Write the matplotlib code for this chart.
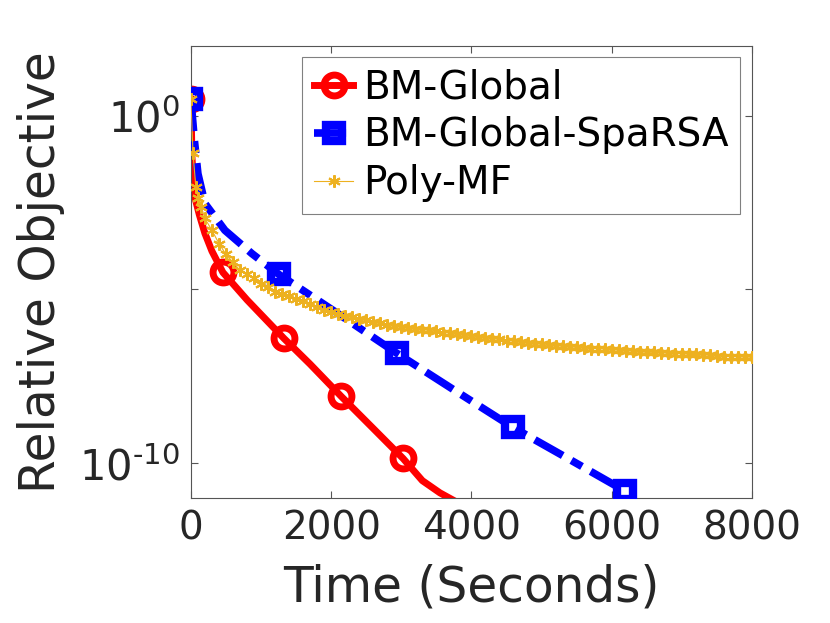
import matplotlib
matplotlib.use("Agg")
import matplotlib.pyplot as plt
import numpy as np

# BM-Global (time in seconds, log10 of relative objective)
red_t = [0, 15, 50, 120, 200, 300, 456, 800, 1327, 1700, 2140, 2600, 3024, 3300, 3550, 3730]
red_y = [0.47, -1.2, -2.3, -2.85, -3.39, -3.9, -4.51, -5.3, -6.41, -7.15, -8.07, -9.0, -9.86,
         -10.5, -10.85, -11.05]
red_marks = [0, 6, 8, 10, 12]

# BM-Global-SpaRSA
blue_t = [0, 50, 100, 200, 485, 870, 1255, 2100, 2939, 3750, 4593, 5400, 6191]
blue_y = [0.47, -0.72, -1.67, -2.53, -3.30, -3.97, -4.57, -5.70, -6.84, -7.89, -8.97, -9.89, -10.80]
blue_marks = [0, 6, 8, 10, 12]

# Poly-MF
poly_t = [0, 30, 70, 100, 150, 200, 300, 400, 500, 600, 700, 800, 900, 1000,
          1100, 1200, 1300, 1400, 1500, 1600, 1700, 1800, 1900, 2000,
          2100, 2200, 2300, 2400, 2500, 2600, 2700, 2800, 2900, 3000,
          3100, 3200, 3300, 3400, 3500, 3600, 3700, 3800, 3900, 4000,
          4100, 4200, 4300, 4400, 4500, 4600, 4700, 4800, 4900, 5000,
          5100, 5200, 5300, 5400, 5500, 5600, 5700, 5800, 5900, 6000,
          6100, 6200, 6300, 6400, 6500, 6600, 6700, 6800, 6900, 7000,
          7100, 7200, 7300, 7400, 7500, 7600, 7700, 7800, 7900, 8000]
poly_y = [0.47, -1.09, -2.04, -2.36, -2.64, -2.96, -3.30, -3.68, -3.99, -4.22, -4.45, -4.57, -4.68, -4.83,
          -4.94, -5.06, -5.14, -5.20, -5.29, -5.34, -5.43, -5.52, -5.60, -5.66,
          -5.72, -5.76, -5.80, -5.85, -5.89, -5.93, -5.98, -6.01, -6.05, -6.08,
          -6.11, -6.14, -6.16, -6.18, -6.21, -6.24, -6.26, -6.29, -6.32, -6.35,
          -6.38, -6.39, -6.42, -6.44, -6.47, -6.49, -6.51, -6.54, -6.57, -6.58,
          -6.61, -6.62, -6.64, -6.65, -6.67, -6.68, -6.70, -6.70, -6.72, -6.74,
          -6.75, -6.77, -6.78, -6.80, -6.81, -6.81, -6.82, -6.84, -6.85, -6.85,
          -6.87, -6.87, -6.88, -6.90, -6.91, -6.93, -6.93, -6.94, -6.95, -6.95]

x_ticks = [0, 2000, 4000, 6000, 8000]
y_ticks = [1e-10, 1e-5, 1e0]
y_ticklabels = [r"$10^{\text{-}10}$", "", "$10^{0}$"]

TXT = "#262626"

fig = plt.figure(figsize=(8.3, 6.23), dpi=100)
ax = fig.add_axes([0.230, 0.2006, 0.676, 0.7255])

ax.plot(blue_t, 10.0 ** np.array(blue_y), color="#0000ff", lw=5.5, dashes=(4.2, 1.3, 1.6, 1.3),
        dash_capstyle="butt", marker="s", ms=12, mew=6, mfc="none", mec="#0000ff",
        markevery=blue_marks, label="BM-Global-SpaRSA", zorder=3)
ax.plot(red_t, 10.0 ** np.array(red_y), color="#ff0000", lw=5, marker="o", ms=15, mew=5,
        mfc="none", mec="#ff0000", markevery=red_marks, label="BM-Global", zorder=2)
ax.plot(poly_t, 10.0 ** np.array(poly_y), color="#EDB120", lw=0.8, marker=(6, 2, 0), ms=9,
        mew=1.5, label="Poly-MF", zorder=4)

ax.set_yscale("log")
ax.set_xlim(0, 8000)
ax.set_ylim(1e-11, 1e2)
ax.set_xticks(x_ticks)
ax.set_xticklabels([str(v) for v in x_ticks])
ax.set_yticks(y_ticks)
ax.set_yticklabels(y_ticklabels)
ax.yaxis.set_minor_locator(matplotlib.ticker.NullLocator())
ax.tick_params(direction="in", length=5, width=0.8, top=True, right=True,
               labelsize=28, colors="#555555", labelcolor=TXT, pad=8)
ax.tick_params(axis="y", labelsize=30)
for sp in ax.spines.values():
    sp.set_color("#555555")
    sp.set_linewidth(0.8)

ax.set_xlabel("Time (Seconds)", fontsize=35, color=TXT, labelpad=12)
ax.set_ylabel("Relative Objective", fontsize=35, color=TXT, labelpad=10)

handles, labels = ax.get_legend_handles_labels()
order = [1, 0, 2]
leg = ax.legend([handles[i] for i in order], [labels[i] for i in order],
                loc="upper right", bbox_to_anchor=(0.9786, 0.9757), borderaxespad=0,
                fontsize=28, handlelength=1.0, handletextpad=0.25, labelspacing=0.25,
                borderpad=0.3, fancybox=False, framealpha=1, edgecolor="#808080")
leg.get_frame().set_linewidth(0.8)

fig.savefig("out.png", dpi=100)
